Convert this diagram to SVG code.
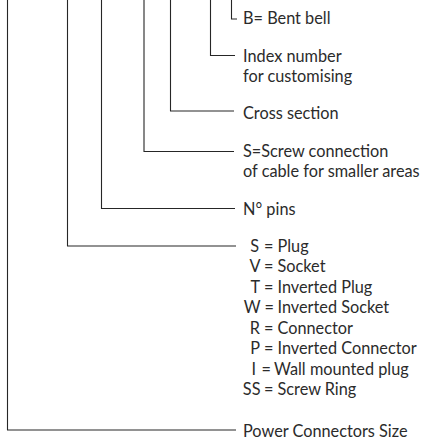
<svg xmlns="http://www.w3.org/2000/svg" width="425" height="442" viewBox="0 0 425 442">
<style>
.c{fill:none;stroke:#262626;stroke-width:1.1}
text{font-family:Lato,"Open Sans","Noto Sans",sans-serif;font-size:16.3px;fill:#2b2b2b}
.e{text-anchor:end}
</style>
<rect width="425" height="442" fill="#fff"/>
<g id="connectors">
<polyline class="c" points="7.5,0 7.5,430 236,430"/>
<polyline class="c" points="67.5,0 67.5,246 236,246"/>
<polyline class="c" points="101.5,0 101.5,208.5 235,208.5"/>
<polyline class="c" points="144,0 144,151.5 234,151.5"/>
<polyline class="c" points="170.5,0 170.5,111 234,111"/>
<polyline class="c" points="210.5,0 210.5,55.5 235,55.5"/>
<polyline class="c" points="231.5,0 231.5,19 237,19"/>
</g>
<g id="bent-bell"><text x="243" y="24">B= Bent bell</text></g>
<g id="index-number"><text x="243" y="61.5">Index number</text><text x="243" y="81.5">for customising</text></g>
<g id="cross-section"><text x="243" y="119">Cross section</text></g>
<g id="screw-connection"><text x="243" y="157">S=Screw connection</text><text x="243" y="177">of cable for smaller areas</text></g>
<g id="pins"><text x="243" y="215">N° pins</text></g>
<g id="types">
<text y="251.5"><tspan class="e" x="259">S</tspan><tspan x="264">=</tspan><tspan x="277.5">Plug</tspan></text>
<text y="272"><tspan class="e" x="260.5">V</tspan><tspan x="264">=</tspan><tspan x="277.5">Socket</tspan></text>
<text y="292.5"><tspan class="e" x="260">T</tspan><tspan x="264">=</tspan><tspan x="277.5">Inverted Plug</tspan></text>
<text y="313"><tspan class="e" x="260.5">W</tspan><tspan x="264.5">=</tspan><tspan x="277.5">Inverted Socket</tspan></text>
<text y="333.5"><tspan class="e" x="260">R</tspan><tspan x="264">=</tspan><tspan x="277.5">Connector</tspan></text>
<text y="354"><tspan class="e" x="260">P</tspan><tspan x="264">=</tspan><tspan x="277.5">Inverted Connector</tspan></text>
<text y="374.5"><tspan class="e" x="256">I</tspan><tspan x="261.5">=</tspan><tspan x="274">Wall mounted plug</tspan></text>
<text y="395"><tspan class="e" x="260.5">SS</tspan><tspan x="264">=</tspan><tspan x="277.5">Screw Ring</tspan></text>
</g>
<g id="power-size"><text x="243" y="437">Power Connectors Size</text></g>
</svg>
